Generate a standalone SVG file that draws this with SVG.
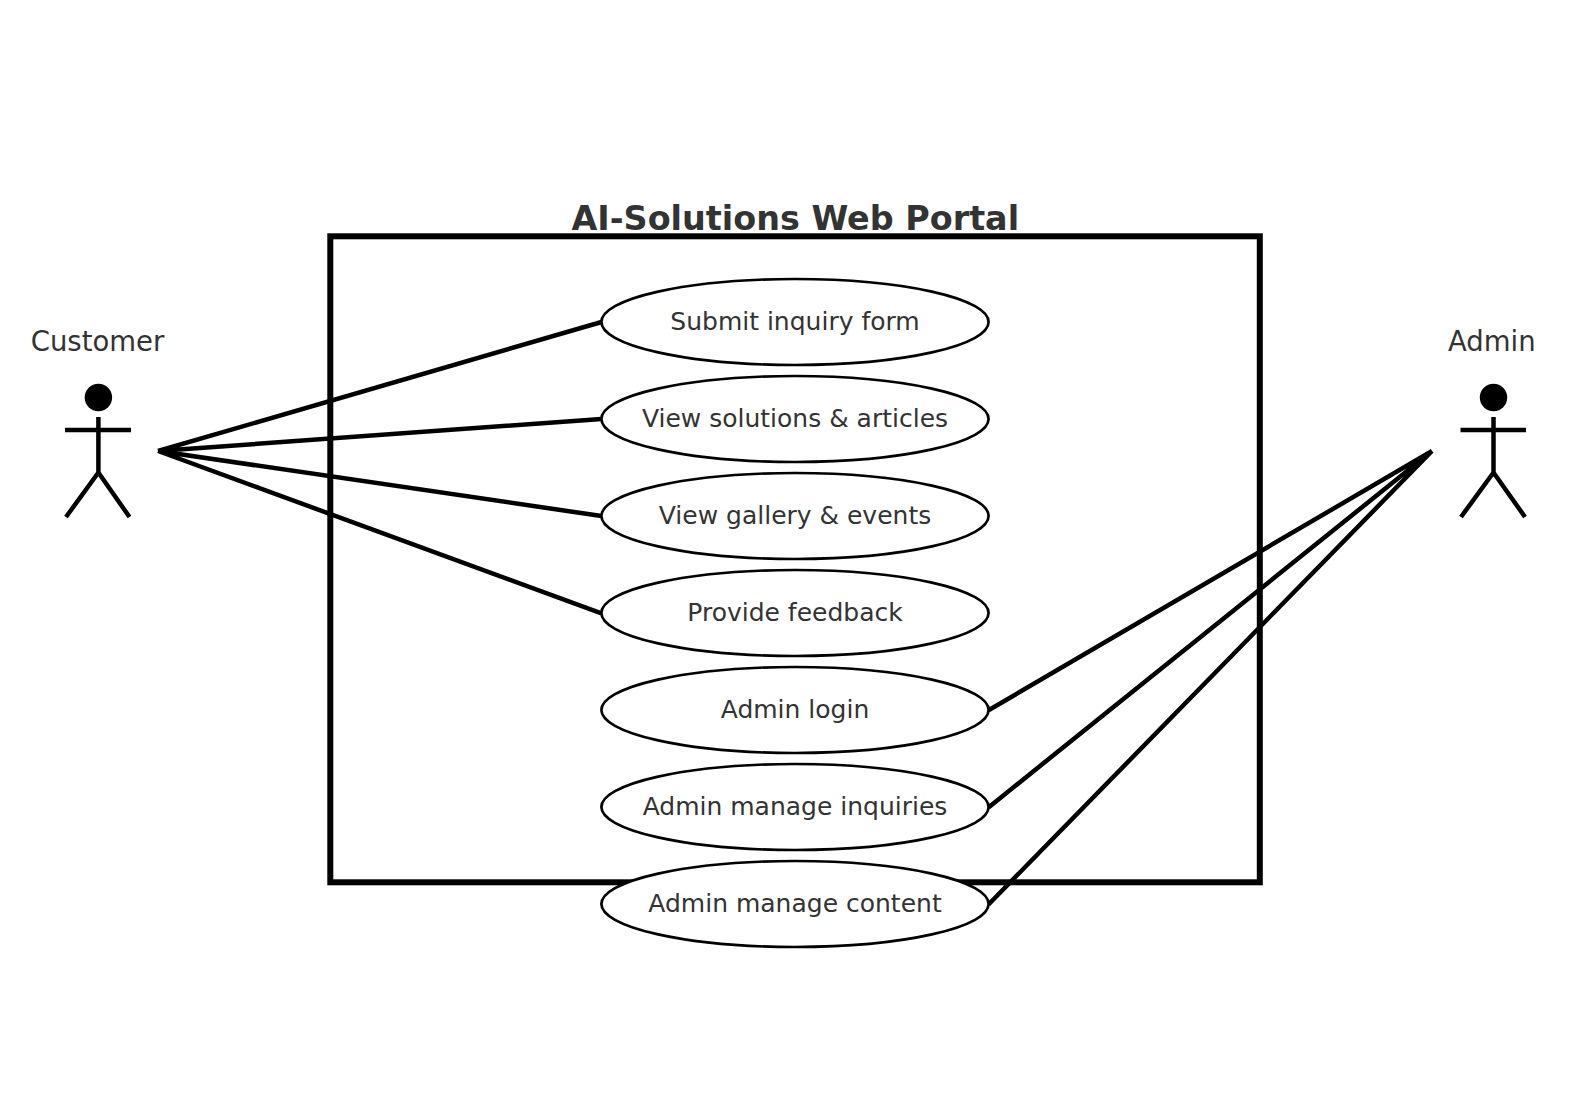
<svg xmlns="http://www.w3.org/2000/svg" width="1589" height="1118" viewBox="0 0 1589 1118">
<style>
text{font-family:"DejaVu Sans",sans-serif;fill:#333;text-anchor:middle}
.uc{font-size:25px}
.ac{font-size:27.5px}
.title{font-size:33.4px;font-weight:bold}
ellipse{fill:#fff;stroke:#000;stroke-width:2.7}
.l{stroke:#000;stroke-width:4.5;fill:none}
.s{stroke:#000;stroke-width:4.5;fill:none}
</style>
<rect width="1589" height="1118" fill="#fff"/>
<g id="system">
<rect x="330.300" y="236.300" width="929.500" height="646" fill="none" stroke="#000" stroke-width="6"/>
<text class="title" x="795.300" y="230">AI-Solutions Web Portal</text>
</g>
<g id="connectors">
<path class="l" d="M158 451L601.500 322M158 451L601.500 419M158 451L601.500 516M158 451L601.500 613.300M1432 451L988.500 710.300M1432 451L988.500 807.400M1432 451L988.500 904.500"/>
</g>
<g id="uc1"><ellipse cx="795" cy="322" rx="193.600" ry="43"/><text class="uc" x="795" y="330">Submit inquiry form</text></g>
<g id="uc2"><ellipse cx="795" cy="419" rx="193.600" ry="43"/><text class="uc" x="795" y="427">View solutions &amp; articles</text></g>
<g id="uc3"><ellipse cx="795" cy="516" rx="193.600" ry="43"/><text class="uc" x="795" y="523.500">View gallery &amp; events</text></g>
<g id="uc4"><ellipse cx="795" cy="613" rx="193.600" ry="43"/><text class="uc" x="795" y="621">Provide feedback</text></g>
<g id="uc5"><ellipse cx="795" cy="710" rx="193.600" ry="43"/><text class="uc" x="795" y="718">Admin login</text></g>
<g id="uc6"><ellipse cx="795" cy="807" rx="193.600" ry="43"/><text class="uc" x="795" y="815">Admin manage inquiries</text></g>
<g id="uc7"><ellipse cx="795" cy="904" rx="193.600" ry="43"/><text class="uc" x="795" y="912">Admin manage content</text></g>
<g id="customer">
<text class="ac" x="97.500" y="351">Customer</text>
<circle cx="98.400" cy="397.500" r="13.700" fill="#000"/>
<path class="s" d="M98.400 417V472.500M65 430H131M66 517L98.400 472.500L129.500 517"/>
</g>
<g id="admin">
<text class="ac" x="1491.800" y="351">Admin</text>
<circle cx="1493.500" cy="397.500" r="13.700" fill="#000"/>
<path class="s" d="M1493.500 417V472.500M1460.500 430H1526M1461 517L1493.500 472.500L1525 517"/>
</g>
</svg>
